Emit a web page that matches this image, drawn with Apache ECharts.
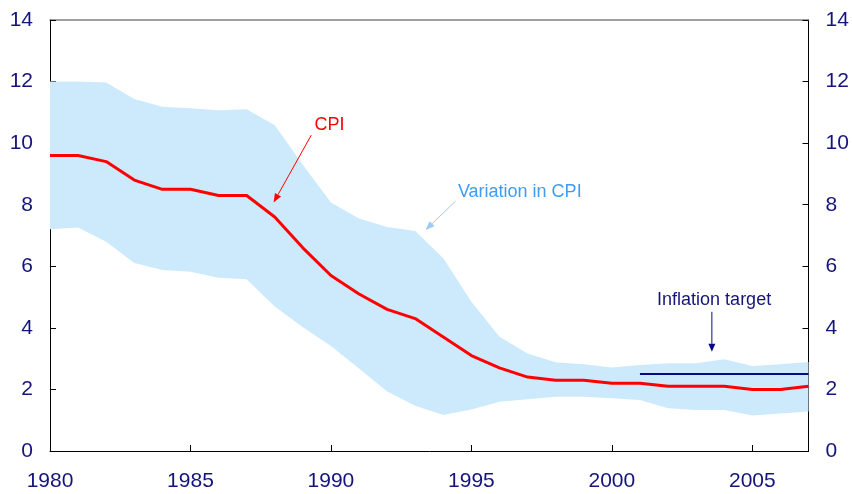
<!DOCTYPE html>
<html><head><meta charset="utf-8">
<script src="https://cdn.jsdelivr.net/npm/echarts@6/dist/echarts.min.js"></script>
<style>html,body{margin:0;padding:0;background:#fff}#c{width:852px;height:494px}</style>
</head><body><div id="c"></div>
<script>
// ---- data ----
const years = [1980,1981,1982,1983,1984,1985,1986,1987,1988,1989,1990,1991,1992,1993,1994,1995,1996,1997,1998,1999,2000,2001,2002,2003,2004,2005,2006,2007];
const cpi = [9.6,9.6,9.4,8.8,8.5,8.5,8.3,8.3,7.6,6.6,5.7,5.1,4.6,4.3,3.7,3.1,2.7,2.4,2.3,2.3,2.2,2.2,2.1,2.1,2.1,2.0,2.0,2.1];
const bandUpper = [12.0,12.0,11.97,11.43,11.18,11.13,11.07,11.1,10.58,9.3,8.07,7.55,7.28,7.15,6.26,4.85,3.71,3.17,2.88,2.82,2.71,2.79,2.85,2.85,2.98,2.76,2.82,2.89];
const bandLower = [7.2,7.26,6.8,6.11,5.88,5.82,5.63,5.58,4.69,4.02,3.41,2.68,1.93,1.47,1.17,1.35,1.6,1.68,1.76,1.76,1.71,1.66,1.39,1.33,1.33,1.15,1.22,1.28];
const targetYears = [2001, 2007];
const targetValues = [2.5, 2.5];
const yMin = 0, yMax = 14, yStep = 2;
const xMin = 1980, xMax = 2007, xStep = 5;
const labels = { cpi: 'CPI', band: 'Variation in CPI', target: 'Inflation target' };

// ---- chart ----
const NAVY = '#14147a';
const FONT = '"Liberation Sans", Arial, sans-serif';
const chart = echarts.init(document.getElementById('c'), null, { renderer: 'canvas' });
const pairs = (xs, ys) => xs.map((x, i) => [x, ys[i]]);
const bandData = years.map((y, i) => [y, bandLower[i], bandUpper[i]]);

const yAxisBase = (pos) => ({
  type: 'value', position: pos, min: yMin, max: yMax, interval: yStep,
  axisLine: { show: true, lineStyle: { color: '#000', width: 1 } },
  axisTick: { show: true, inside: true, length: 6, lineStyle: { color: '#000' } },
  axisLabel: { color: NAVY, fontSize: 21, fontFamily: FONT, margin: 17 },
  splitLine: { show: false }
});

chart.setOption({
  animation: false,
  backgroundColor: '#fff',
  grid: { left: 50, right: 43.5, top: 20, bottom: 43 },
  xAxis: [{
    type: 'value', position: 'bottom', min: xMin, max: xMax, interval: xStep,
    axisLine: { show: true, onZero: false, lineStyle: { color: '#000', width: 1 } },
    axisTick: { show: true, inside: true, length: 6, lineStyle: { color: '#000' } },
    axisLabel: { color: NAVY, fontSize: 21, fontFamily: FONT, margin: 20,
      showMaxLabel: false, formatter: v => String(v) },
    splitLine: { show: false }
  }, {
    type: 'value', position: 'top', min: xMin, max: xMax, interval: xStep,
    axisLine: { show: true, onZero: false, lineStyle: { color: '#808080', width: 1.5 } },
    axisTick: { show: false }, axisLabel: { show: false }, splitLine: { show: false }
  }],
  yAxis: [yAxisBase('left'), yAxisBase('right')],
  series: [
    { name: 'band', type: 'custom', data: bandData, silent: true, z: 1,
      encode: { x: 0, y: [1, 2] },
      renderItem: (params, api) => {
        if (params.dataIndex !== 0) return null;
        const top = bandData.map(d => api.coord([d[0], d[2]]));
        const bot = bandData.map(d => api.coord([d[0], d[1]])).reverse();
        return { type: 'polygon', shape: { points: top.concat(bot) }, style: { fill: '#cdeafc' } };
      } },
    { name: 'target', type: 'line', data: pairs(targetYears, targetValues), symbol: 'none',
      lineStyle: { color: '#0a0a80', width: 2 }, z: 3 },
    { name: 'CPI', type: 'line', data: pairs(years, cpi), symbol: 'none',
      lineStyle: { color: '#ff0000', width: 3 }, z: 4 }
  ]
});

// ---- annotations (placed in data coordinates) ----
const px = (x, y) => chart.convertToPixel({ xAxisIndex: 0, yAxisIndex: 0 }, [x, y]);
function arrow(a, b, color, w, hl, hw) {
  const p0 = px(a[0], a[1]), p1 = px(b[0], b[1]);
  const dx = p1[0] - p0[0], dy = p1[1] - p0[1], L = Math.hypot(dx, dy), ux = dx / L, uy = dy / L;
  const bx = p1[0] - ux * hl, by = p1[1] - uy * hl;
  return [
    { type: 'line', shape: { x1: p0[0], y1: p0[1], x2: bx, y2: by }, style: { stroke: color, lineWidth: w }, z: 10 },
    { type: 'polygon', shape: { points: [p1, [bx - uy * hw, by + ux * hw], [bx + uy * hw, by - ux * hw]] }, style: { fill: color }, z: 10 }
  ];
}
function label(txt, at, color, align) {
  const p = px(at[0], at[1]);
  return { type: 'text', x: p[0], y: p[1], z: 10,
    style: { text: txt, fill: color, font: '18px ' + FONT, align: align, verticalAlign: 'middle' } };
}
chart.setOption({
  graphic: [
    label(labels.cpi, [1989.95, 10.58], '#ff0000', 'center'),
    ...arrow([1989.3, 10.26], [1987.96, 8.07], '#ff0000', 1, 9, 3.5),
    label(labels.band, [1994.52, 8.41], '#3d9cf5', 'left'),
    ...arrow([1994.44, 8.12], [1993.37, 7.18], '#9ccaf2', 1, 9, 3.5),
    label(labels.target, [2003.64, 4.9], NAVY, 'center'),
    ...arrow([2003.56, 4.52], [2003.56, 3.22], '#0a0a80', 1, 8, 3.5)
  ]
});
</script>
</body></html>
